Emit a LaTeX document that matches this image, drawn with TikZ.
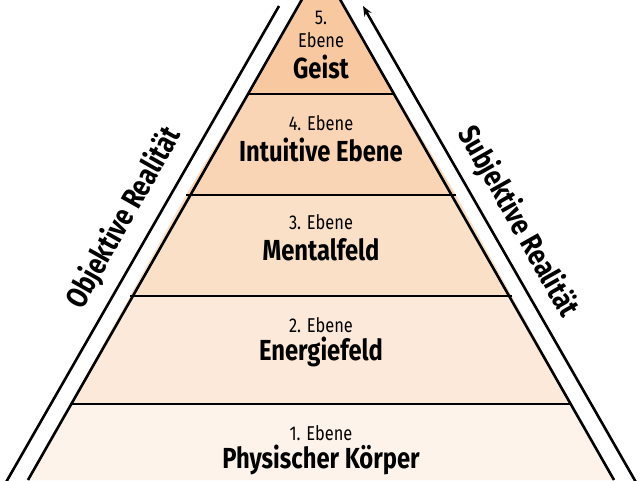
\documentclass[tikz,border=0pt]{standalone}
\usepackage{fontspec}
\setmainfont{Fira Sans}[FakeStretch=0.82]
\usepackage{xcolor}
\usetikzlibrary{arrows.meta}

\begin{document}
\begin{tikzpicture}[x=1pt,y=-1pt,
  level/.style={draw=black,line width=2.6pt},
  small/.style={font=\fontsize{20}{22}\selectfont},
  big/.style={font=\fontsize{29}{31}\selectfont\bfseries},
  side/.style={font=\fontsize{30}{32}\selectfont\bfseries}]
\useasboundingbox (0,0) rectangle (640,480); % Frame of the picture
\definecolor{fillA}{RGB}{253,243,234} % Fill of level 1
\definecolor{fillB}{RGB}{252,233,217} % Fill of level 2
\definecolor{fillC}{RGB}{251,224,200} % Fill of level 3
\definecolor{fillD}{RGB}{250,213,181} % Fill of level 4
\definecolor{fillE}{RGB}{248,201,160} % Fill of level 5
\begin{scope}
\clip (0,0) rectangle (640,480);
\fill[fillA] (28,480) -- (70,404) -- (572,404) -- (614,480) -- cycle; % Level 1
\fill[fillB] (70,404) -- (130,296) -- (512,296) -- (572,404) -- cycle; % Level 2
\fill[fillC] (130,296) -- (186,195) -- (456,195) -- (512,296) -- cycle; % Level 3
\fill[fillD] (186,195) -- (247,94) -- (395,94) -- (456,195) -- cycle; % Level 4
\fill[fillE] (247,94) -- (321,-34) -- (395,94) -- cycle; % Level 5
\draw[level] (28,480) -- (321,-34) -- (614,480); % Sides of the pyramid
\draw[level] (70,404) -- (572,404); % Border 1/2
\draw[level] (130,296) -- (512,296); % Border 2/3
\draw[level] (186,195) -- (456,195); % Border 3/4
\draw[level] (247,94) -- (395,94); % Border 4/5
\coordinate (lbot) at (5,484);
\coordinate (ltop) at (279,6);
\coordinate (rbot) at (637,484);
\coordinate (rtop) at (363,6);
\draw[line width=2.6pt] (lbot) -- (ltop); % Left outer line
\draw[line width=2.6pt,-{Stealth[length=10pt,width=8pt]}] (rbot) -- (rtop); % Right outer line with arrow
\end{scope}
\node[small] (e5a) at (321,18) {5.};
\node[small] (e5b) at (321,40) {Ebene};
\node[big] (g5) at (321,67) {Geist};
\node[small] (e4) at (321,123) {4. Ebene};
\node[big] (g4) at (321,150) {Intuitive Ebene};
\node[small] (e3) at (321,222) {3. Ebene};
\node[big] (g3) at (321,250) {Mentalfeld};
\node[small] (e2) at (321,325) {2. Ebene};
\node[big] (g2) at (321,352) {Energiefeld};
\node[small] (e1) at (321,433) {1. Ebene};
\node[big] (g1) at (321,460) {Physischer Körper};
\node[side,rotate=60.5] (obj) at (124,218) {Objektive Realität}; % Left label
\node[side,rotate=-60.5] (subj) at (518,222) {Subjektive Realität}; % Right label
\end{tikzpicture}
\end{document}
